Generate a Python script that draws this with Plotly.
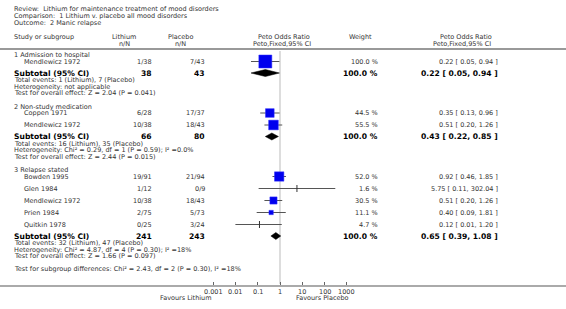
import math
import plotly.graph_objects as go

# ---------------- data ----------------
review_title = "Review:  Lithium for maintenance treatment of mood disorders"
comparison = "Comparison:  1 Lithium v. placebo all mood disorders"
outcome = "Outcome:  2 Manic relapse"

group_names = ["1 Admission to hospital", "2 Non-study medication", "3 Relapse stated"]

study_names = [
    ["Mendlewicz 1972"],
    ["Coppen 1971", "Mendlewicz 1972"],
    ["Bowden 1995", "Glen 1984", "Mendlewicz 1972", "Prien 1984", "Quitkin 1978"],
]
lithium_nN = [["1/38"], ["6/28", "10/38"], ["19/91", "1/12", "10/38", "2/75", "0/25"]]
placebo_nN = [["7/43"], ["17/37", "18/43"], ["21/94", "0/9", "18/43", "5/73", "3/24"]]
weights = [[100.0], [44.5, 55.5], [52.0, 1.6, 30.5, 11.1, 4.7]]
or_est = [[0.22], [0.35, 0.51], [0.92, 5.75, 0.51, 0.40, 0.12]]
or_lo = [[0.05], [0.13, 0.20], [0.46, 0.11, 0.20, 0.09, 0.01]]
or_hi = [[0.94], [0.96, 1.26], [1.85, 302.04, 1.26, 1.81, 1.20]]

sub_lith = ["38", "66", "241"]
sub_plac = ["43", "80", "243"]
sub_weight = [100.0, 100.0, 100.0]
sub_est = [0.22, 0.43, 0.65]
sub_lo = [0.05, 0.22, 0.39]
sub_hi = [0.94, 0.85, 1.08]

total_events = [
    "Total events: 1 (Lithium), 7 (Placebo)",
    "Total events: 16 (Lithium), 35 (Placebo)",
    "Total events: 32 (Lithium), 47 (Placebo)",
]
heterogeneity = [
    "Heterogeneity: not applicable",
    "Heterogeneity: Chi² = 0.29, df = 1 (P = 0.59); I² =0.0%",
    "Heterogeneity: Chi² = 4.87, df = 4 (P = 0.30); I² =18%",
]
overall_effect = [
    "Test for overall effect: Z = 2.04 (P = 0.041)",
    "Test for overall effect: Z = 2.44 (P = 0.015)",
    "Test for overall effect: Z = 1.66 (P = 0.097)",
]
subgroup_test = "Test for subgroup differences: Chi² = 2.43, df = 2 (P = 0.30), I² =18%"

tick_vals = [0.001, 0.01, 0.1, 1, 10, 100, 1000]
tick_text = ["0.001", "0.01", "0.1", "1", "10", "100", "1000"]
favours_left = "Favours Lithium"
favours_right = "Favours Placebo"

# ---------------- layout constants ----------------
W, H = 566, 309
PX_PER_DEC = 22.3
X_ONE = 280.0
r0 = -X_ONE / PX_PER_DEC
r1 = r0 + W / PX_PER_DEC
FONT = "DejaVu Sans"
FS = 6.5
FSB = 7.6
TXT = "#333333"

X_LEFT = 13
X_STUDY = 23
X_LITH = 153
X_PLAC = 206
X_WEIGHT = 379
X_CI = 499
AXIS_Y = 286
HEADER_LINE_Y = 49

annotations = []
shapes = []
traces = []


def txt(x, y, s, anchor="left", size=FS, bold=False, color=TXT, xref="paper"):
    annotations.append(dict(
        x=(x / W if xref == "paper" else x), xref=xref, y=y, yref="y",
        text=("<b>" + s + "</b>" if bold else s),
        xanchor=anchor, yanchor="middle", showarrow=False, borderpad=0,
        font=dict(family=FONT, size=size, color=color),
    ))


def fmt_ci(e, l, h):
    return "%.2f [ %.2f, %.2f ]" % (e, l, h)


# title block
txt(X_LEFT, 9, review_title)
txt(X_LEFT, 16, comparison)
txt(X_LEFT, 23, outcome)

# headers
txt(X_LEFT, 37, "Study or subgroup")
txt(124, 37, "Lithium", "center")
txt(124, 44, "n/N", "center")
txt(180, 37, "Placebo", "center")
txt(180, 44, "n/N", "center")
txt(284, 37, "Peto Odds Ratio", "center")
txt(282, 44, "Peto,Fixed,95% CI", "center")
txt(360, 37, "Weight", "center")
txt(466, 37, "Peto Odds Ratio", "center")
txt(462, 44, "Peto,Fixed,95% CI", "center")

shapes.append(dict(type="line", xref="paper", yref="y", x0=0, x1=1,
                   y0=HEADER_LINE_Y, y1=HEADER_LINE_Y, line=dict(color="#999999", width=2)))
shapes.append(dict(type="line", xref="x", yref="y", x0=1, x1=1, y0=51, y1=AXIS_Y - 2,
                   line=dict(color="#dddddd", width=2), layer="below"))

y = 55.0
for g in range(len(group_names)):
    txt(X_LEFT, y, group_names[g])
    ys = y + 6.5
    for i, name in enumerate(study_names[g]):
        txt(X_STUDY, ys, name)
        txt(X_LITH, ys, lithium_nN[g][i], "right")
        txt(X_PLAC, ys, placebo_nN[g][i], "right")
        txt(X_WEIGHT, ys, "%.1f %%" % weights[g][i], "right")
        txt(X_CI, ys, fmt_ci(or_est[g][i], or_lo[g][i], or_hi[g][i]), "right")
        traces.append(go.Scatter(x=[or_lo[g][i], or_hi[g][i]], y=[ys, ys], mode="lines",
                                 line=dict(color="#555555", width=1), hoverinfo="skip"))
        w = weights[g][i]
        if w < 5:
            mk = dict(symbol="line-ns", size=5, line=dict(color="#333333", width=1))
        else:
            mk = dict(symbol="square", size=13 * math.sqrt(w / 100.0), color="#0000ee",
                      line=dict(color="#3333ff", width=0.5))
        traces.append(go.Scatter(x=[or_est[g][i]], y=[ys], mode="markers", marker=mk,
                                 hoverinfo="skip"))
        ys += 12
    ysub = ys - 12 + 11.5
    txt(X_LEFT, ysub, "Subtotal (95% CI)", size=FSB, bold=True, color="black")
    txt(X_LITH, ysub, sub_lith[g], "right", size=FSB, bold=True, color="black")
    txt(X_PLAC, ysub, sub_plac[g], "right", size=FSB, bold=True, color="black")
    txt(X_WEIGHT, ysub, "%.1f %%" % sub_weight[g], "right", size=FSB, bold=True, color="black")
    txt(X_CI, ysub, fmt_ci(sub_est[g], sub_lo[g], sub_hi[g]), "right", size=FSB, bold=True,
        color="black")
    hh = 3.5
    traces.append(go.Scatter(
        x=[sub_lo[g], sub_est[g], sub_hi[g], sub_est[g], sub_lo[g]],
        y=[ysub, ysub - hh, ysub, ysub + hh, ysub],
        mode="lines", fill="toself", fillcolor="black",
        line=dict(color="black", width=0.5), hoverinfo="skip"))
    yf = ysub + 7
    txt(X_LEFT, yf, total_events[g])
    txt(X_LEFT, yf + 6.5, heterogeneity[g])
    txt(X_LEFT, yf + 13, overall_effect[g])
    y = yf + 13 + 13.5

txt(X_LEFT, y - 0.5, subgroup_test)

# tick labels placed through the x data axis
for tv, tt in zip(tick_vals, tick_text):
    annotations.append(dict(x=math.log10(tv), xref="x", y=AXIS_Y + 5.5, yref="y", text=tt,
                            xanchor="center", yanchor="middle", showarrow=False, borderpad=0,
                            font=dict(family=FONT, size=FS, color=TXT)))

txt(213, 297.5, favours_left, "right")
txt(295, 297.5, favours_right, "left")

fig = go.Figure(traces)
fig.update_layout(
    width=W, height=H, margin=dict(l=0, r=0, t=0, b=0),
    paper_bgcolor="white", plot_bgcolor="white", showlegend=False,
    annotations=annotations, shapes=shapes,
    xaxis=dict(type="log", range=[r0, r1], domain=[0, 1], anchor="free",
               position=(H - AXIS_Y) / H, tickvals=tick_vals, showticklabels=False,
               ticks="inside", ticklen=3, tickwidth=1, tickcolor="#666666",
               showline=True, linecolor="#aaaaaa", linewidth=2,
               showgrid=False, zeroline=False, fixedrange=True),
    yaxis=dict(range=[H, 0], domain=[0, 1], visible=False, showgrid=False,
               zeroline=False, fixedrange=True),
)
fig.write_html("out.html", config={"displayModeBar": False},
               post_script="document.body.style.margin='0';")
